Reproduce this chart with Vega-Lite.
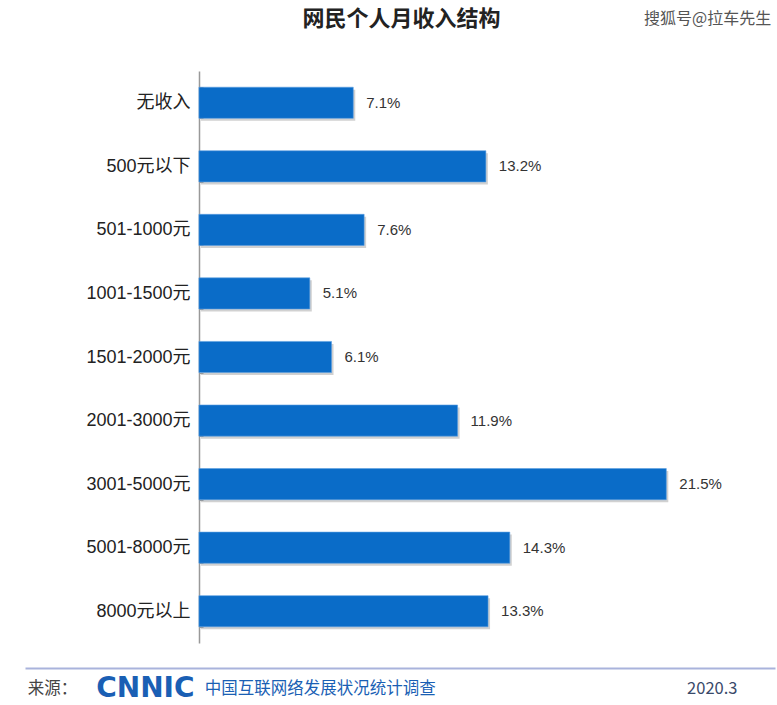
{
  "$schema": "https://vega.github.io/schema/vega-lite/v6.json",
  "autosize": {"type": "none"},
  "padding": {"left": 25, "top": 71, "right": 2, "bottom": 62},
  "width": 750,
  "height": 572,
  "background": "#ffffff",
  "config": {"view": {"stroke": null}},
  "data": {
    "values": [
      {"category": "无收入", "pct": 7.1, "label": "7.1%"},
      {"category": "500元以下", "pct": 13.2, "label": "13.2%"},
      {"category": "501-1000元", "pct": 7.6, "label": "7.6%"},
      {"category": "1001-1500元", "pct": 5.1, "label": "5.1%"},
      {"category": "1501-2000元", "pct": 6.1, "label": "6.1%"},
      {"category": "2001-3000元", "pct": 11.9, "label": "11.9%"},
      {"category": "3001-5000元", "pct": 21.5, "label": "21.5%"},
      {"category": "5001-8000元", "pct": 14.3, "label": "14.3%"},
      {"category": "8000元以上", "pct": 13.3, "label": "13.3%"}
    ]
  },
  "encoding": {
    "y": {
      "field": "category",
      "type": "nominal",
      "sort": null,
      "scale": {"paddingInner": 0.51, "paddingOuter": 0.255},
      "axis": {
        "title": null,
        "offset": -174,
        "domainColor": "#999999",
        "domainWidth": 1.5,
        "tickBand": "extent",
        "tickSize": -4,
        "tickColor": "#999999",
        "labelFont": "Liberation Sans, Noto Sans CJK SC",
        "labelFontSize": 18,
        "labelColor": "#222222",
        "labelPadding": 13,
        "labelLimit": 0
      }
    }
  },
  "layer": [
    {
      "mark": {"type": "bar", "color": "#9a9a9a", "opacity": 0.45, "xOffset": 2, "yOffset": 2.5},
      "encoding": {
        "x": {"field": "pct", "type": "quantitative", "scale": {"domain": [-8, 26.5]}, "axis": null}
      }
    },
    {
      "mark": {"type": "bar", "color": "#0a6cc8", "stroke": "#5a9ee0", "strokeWidth": 0.6},
      "encoding": {
        "x": {
          "field": "pct",
          "type": "quantitative",
          "scale": {"domain": [-8, 26.5]},
          "axis": {
            "orient": "bottom",
            "title": null,
            "offset": 25,
            "grid": false,
            "ticks": false,
            "domainColor": "#a9b3dc",
            "domainWidth": 2,
            "values": [-7.9, -4.75, 0.25, 24.75],
            "labelExpr": "datum.value < -6 ? '来源：' : datum.value < -3 ? 'CNNIC' : datum.value < 5 ? '中国互联网络发展状况统计调查' : '2020.3'",
            "labelOverlap": false,
            "labelFlush": false,
            "labelBound": false,
            "labelLimit": 0,
            "labelBaseline": "middle",
            "labelPadding": 20,
            "labelFont": {"condition": {"test": "datum.value > -6 && datum.value < -3", "value": "DejaVu Sans"}, "value": "Noto Sans CJK SC"},
            "labelAlign": {"condition": {"test": "datum.value > 10", "value": "right"}, "value": "left"},
            "labelFontSize": {"condition": {"test": "datum.value > -6 && datum.value < -3", "value": 28}, "value": 16.5},
            "labelFontWeight": {"condition": {"test": "datum.value > -6 && datum.value < -3", "value": "bold"}, "value": "normal"},
            "labelColor": {
              "condition": [
                {"test": "datum.value < -6", "value": "#444444"},
                {"test": "datum.value > 10", "value": "#3a4a6a"}
              ],
              "value": "#1a5fb4"
            }
          }
        }
      }
    },
    {
      "mark": {"type": "text", "align": "left", "baseline": "middle", "dx": 13, "font": "Liberation Sans", "fontSize": 15, "color": "#333333"},
      "encoding": {
        "x": {
          "field": "pct",
          "type": "quantitative",
          "scale": {"domain": [-8, 26.5]},
          "axis": {
            "orient": "top",
            "title": null,
            "domain": false,
            "ticks": false,
            "grid": false,
            "values": [9.3, 26.3],
            "labelExpr": "datum.value < 20 ? '网民个人月收入结构' : '搜狐号@拉车先生'",
            "labelOverlap": false,
            "labelFlush": false,
            "labelBound": false,
            "labelLimit": 0,
            "labelBaseline": "middle",
            "labelPadding": 53,
            "labelFont": "Noto Sans CJK SC",
            "labelAlign": {"condition": {"test": "datum.value > 20", "value": "right"}, "value": "center"},
            "labelFontSize": {"condition": {"test": "datum.value > 20", "value": 16}, "value": 22},
            "labelFontWeight": {"condition": {"test": "datum.value > 20", "value": "normal"}, "value": "bold"},
            "labelColor": {"condition": {"test": "datum.value > 20", "value": "#555555"}, "value": "#222222"}
          }
        },
        "text": {"field": "label", "type": "nominal"}
      }
    }
  ],
  "resolve": {"axis": {"x": "independent"}}
}
